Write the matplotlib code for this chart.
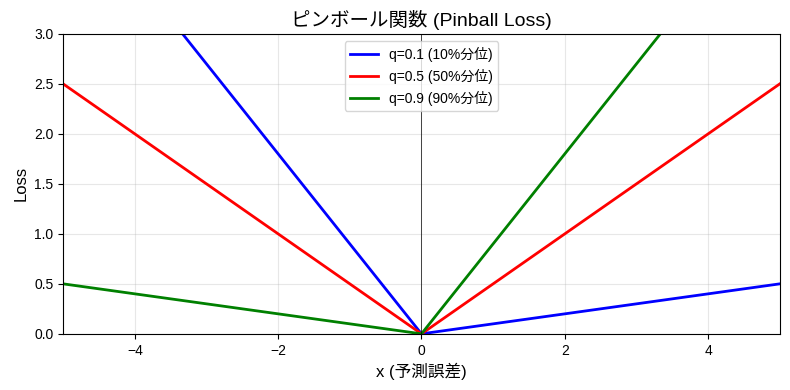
import matplotlib
matplotlib.use('Agg')
import matplotlib.pyplot as plt

plt.rcParams['font.family'] = ['Liberation Sans', 'Noto Sans CJK JP']
plt.rcParams['axes.unicode_minus'] = True

# 誤差 x と各分位の損失 (折れ線の頂点)
x_points = [-5, 0, 5]
loss_q01 = [4.5, 0, 0.5]
loss_q05 = [2.5, 0, 2.5]
loss_q09 = [0.5, 0, 4.5]

labels = ['q=0.1 (10%分位)', 'q=0.5 (50%分位)', 'q=0.9 (90%分位)']
colors = ['blue', 'red', 'green']

fig, ax = plt.subplots(figsize=(7.9, 3.9), dpi=100)

for loss, label, color in zip([loss_q01, loss_q05, loss_q09], labels, colors):
    ax.plot(x_points, loss, color=color, linewidth=2, label=label)

ax.axvline(0, color='black', linewidth=0.5)
ax.set_xlim(-5, 5)
ax.set_ylim(0, 3)
ax.set_xlabel('x (予測誤差)', fontsize=12)
ax.set_ylabel('Loss', fontsize=12)
ax.set_title('ピンボール関数 (Pinball Loss)', fontsize=14)
ax.grid(True, alpha=0.3)
ax.legend(loc='upper center')

# 参照画像に合わせた余白
fig.subplots_adjust(left=0.080, right=0.987, top=0.913, bottom=0.144)
plt.savefig('out.png', dpi=100)
